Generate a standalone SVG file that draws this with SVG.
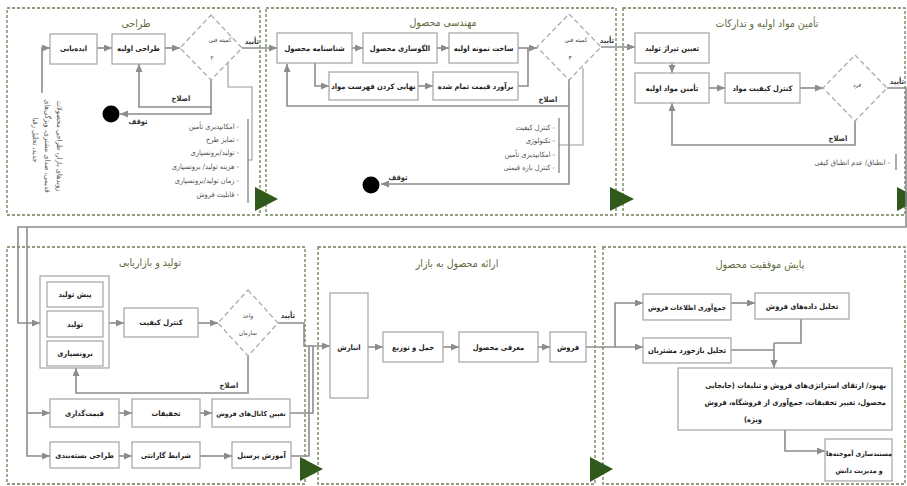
<svg xmlns="http://www.w3.org/2000/svg" width="907" height="486" viewBox="0 0 907 486">
<style>
.panel{fill:none;stroke:#6f7d55;stroke-width:1.3;stroke-dasharray:3 2}
.tri{fill:#2f5a1c}
.box{fill:#fff;stroke:#a3a3a3;stroke-width:1.2}
.dia{fill:none;stroke:#b0b0b0;stroke-width:1.4;stroke-dasharray:5 3}
.c{fill:none;stroke:#8c8c8c;stroke-width:1.6}
.br{fill:none;stroke:#777;stroke-width:1.2}
text{font-family:"DejaVu Sans Condensed","DejaVu Sans",sans-serif;direction:rtl}
.lb{font-size:7.5px;font-weight:bold;fill:#222;text-anchor:middle}
.sm{font-size:6.9px}
.ttl{font-size:10.5px;fill:#5e6b3c;text-anchor:middle}
.li{font-size:7.4px;fill:#555;text-anchor:start}
.dt{font-size:6.2px;fill:#444;text-anchor:middle}
.cl{font-size:7.5px;font-weight:bold;fill:#333;text-anchor:middle}
.rot{font-size:7.4px;fill:#555;text-anchor:middle}
</style>
<defs>
<marker id="ah" markerUnits="userSpaceOnUse" markerWidth="8" markerHeight="8" refX="8" refY="3.5" orient="auto">
<path d="M0,0 L8,3.5 L0,7 z" fill="#8c8c8c"/>
</marker>
</defs>
<rect width="907" height="486" fill="#fff"/>

<g id="panels">
<rect class="panel" x="7" y="8" width="253" height="207"/>
<rect class="panel" x="266" y="8" width="350" height="207"/>
<rect class="panel" x="623" y="8" width="282" height="207"/>
<rect class="panel" x="7" y="247" width="298" height="237"/>
<rect class="panel" x="318" y="247" width="277" height="237"/>
<rect class="panel" x="603" y="247" width="302" height="237"/>
<polygon class="tri" points="255,187 255,211 278,199"/>
<polygon class="tri" points="610,187 610,211 634,199"/>
<polygon class="tri" points="897,187 897,211 920,199"/>
<polygon class="tri" points="300,457 300,481 323,469"/>
<polygon class="tri" points="590,457 590,482 613,469"/>
<text class="ttl" x="136" y="27">طراحی</text>
<text class="ttl" x="443" y="26">مهندسی محصول</text>
<text class="ttl" x="767" y="27">تأمین مواد اولیه و تدارکات</text>
<text class="ttl" x="150" y="266">تولید و بازاریابی</text>
<text class="ttl" x="457" y="267">ارائه محصول به بازار</text>
<text class="ttl" x="760" y="268">پایش موفقیت محصول</text>
</g>

<g id="connectors">
<path class="c" d="M42,93 V48 H50" marker-end="url(#ah)"/>
<path class="c" d="M97,48 H112" marker-end="url(#ah)"/>
<path class="c" d="M165,48 H180" marker-end="url(#ah)"/>
<path class="c" d="M242,48 H277" marker-end="url(#ah)"/>
<path class="c" d="M211,80 V107 H139 V64" marker-end="url(#ah)"/>
<path class="c" d="M211,107 V114 H120" marker-end="url(#ah)"/>
<path class="c" style="stroke-width:1.1;stroke:#999" d="M228,63 V87 H252 V160 H248"/>
<path class="c" d="M352,48 H363" marker-end="url(#ah)"/>
<path class="c" d="M437,48 H449" marker-end="url(#ah)"/>
<path class="c" d="M518,48 H537" marker-end="url(#ah)"/>
<path class="c" d="M315,63 V86 H329" marker-end="url(#ah)"/>
<path class="c" d="M418,86 H433" marker-end="url(#ah)"/>
<path class="c" d="M518,86 H528 V48"/>
<path class="c" d="M601,47 H635" marker-end="url(#ah)"/>
<path class="c" d="M569,80 V106 H287 V64" marker-end="url(#ah)"/>
<path class="c" d="M569,106 V184 H381" marker-end="url(#ah)"/>
<path class="c" style="stroke-width:1.1;stroke:#999" d="M583,68 V145 H559"/>
<path class="c" d="M672,63 V73" marker-end="url(#ah)"/>
<path class="c" d="M709,88 H725" marker-end="url(#ah)"/>
<path class="c" d="M800,88 H823" marker-end="url(#ah)"/>
<path class="c" d="M855,121 V145 H672 V103" marker-end="url(#ah)"/>
<path class="c" d="M887,88 H906 V227 H18 V323 H40" marker-end="url(#ah)"/>
<path class="c" d="M27,227 V456 H50" marker-end="url(#ah)"/>
<path class="c" d="M27,413 H50" marker-end="url(#ah)"/>
<path class="c" d="M109,323 H124" marker-end="url(#ah)"/>
<path class="c" d="M198,323 H218" marker-end="url(#ah)"/>
<path class="c" d="M248,356 V393 H76 V368" marker-end="url(#ah)"/>
<path class="c" d="M119,413 H132" marker-end="url(#ah)"/>
<path class="c" d="M200,413 H212" marker-end="url(#ah)"/>
<path class="c" d="M119,456 H132" marker-end="url(#ah)"/>
<path class="c" d="M200,456 H232" marker-end="url(#ah)"/>
<path class="c" d="M278,323 H304 V346 H330" marker-end="url(#ah)"/>
<path class="c" d="M290,413 H313 V346"/>
<path class="c" d="M291,456 H309 V346"/>
<path class="c" d="M368,347 H383" marker-end="url(#ah)"/>
<path class="c" d="M443,347 H459" marker-end="url(#ah)"/>
<path class="c" d="M538,347 H550" marker-end="url(#ah)"/>
<path class="c" d="M586,347 H643" marker-end="url(#ah)"/>
<path class="c" d="M615,347 V303 H643" marker-end="url(#ah)"/>
<path class="c" d="M731,303 H755" marker-end="url(#ah)"/>
<path class="c" d="M801,319 V343 H774"/>
<path class="c" d="M731,350 H774"/>
<path class="c" d="M774,343 V368" marker-end="url(#ah)"/>
<path class="c" d="M785,430 V451 H825" marker-end="url(#ah)"/>
<text class="cl" x="252" y="44">تأیید</text>
<text class="cl" x="181" y="101">اصلاح</text>
<text class="cl" x="138" y="124">توقف</text>
<text class="cl" x="607" y="43">تأیید</text>
<text class="cl" x="548" y="102">اصلاح</text>
<text class="cl" x="398" y="180">توقف</text>
<text class="cl" x="897" y="84">تأیید</text>
<text class="cl" x="838" y="141">اصلاح</text>
<text class="cl" x="288" y="318">تأیید</text>
<text class="cl" x="229" y="388">اصلاح</text>
</g>

<g id="n-ideation"><rect class="box" x="50" y="34" width="47" height="30"/><text class="lb" x="73.5" y="51">ایده‌یابی</text></g>
<g id="n-initial-design"><rect class="box" x="112" y="34" width="53" height="30"/><text class="lb" x="138.5" y="51">طراحی اولیه</text></g>
<g id="n-committee2"><polygon class="dia" points="211,15 242,48 211,80 180,48"/><text class="dt" x="220" y="42">کمیته فنی</text><text class="dt" x="212" y="60">۲</text></g>
<g id="n-stop1"><circle cx="111" cy="114" r="8.5" fill="#000"/></g>
<g id="n-inputs"><text class="rot" transform="translate(57,146) rotate(90)">روندهای بازار، طراحی محصولات</text><text class="rot" transform="translate(45,146) rotate(90)">قدیمی، صدای مشتری، ویژگی‌های</text><text class="rot" transform="translate(33,140) rotate(90)">جدید، تحلیل رقبا</text></g>
<g id="n-criteria1">
<line class="br" x1="248" y1="119" x2="248" y2="203"/>
<text class="li" x="239" y="129">- امکانپذیری تأمین</text>
<text class="li" x="239" y="142">- تمایز طرح</text>
<text class="li" x="239" y="155">- تولید/برونسپاری</text>
<text class="li" x="239" y="169">- هزینه تولید/ برونسپاری</text>
<text class="li" x="239" y="183">- زمان تولید/برونسپاری</text>
<text class="li" x="239" y="197">- قابلیت فروش</text>
</g>

<g id="n-spec"><rect class="box" x="277" y="33" width="75" height="30"/><text class="lb" x="314.5" y="51">شناسنامه محصول</text></g>
<g id="n-modeling"><rect class="box" x="363" y="33" width="74" height="30"/><text class="lb" x="400" y="51">الگوسازی محصول</text></g>
<g id="n-prototype"><rect class="box" x="449" y="33" width="69" height="30"/><text class="lb" x="483.5" y="51">ساخت نمونه اولیه</text></g>
<g id="n-bom"><rect class="box" x="329" y="72" width="89" height="28"/><text class="lb" x="373.5" y="89">نهایی کردن فهرست مواد</text></g>
<g id="n-costing"><rect class="box" x="433" y="72" width="85" height="28"/><text class="lb" x="475.5" y="89">برآورد قیمت تمام شده</text></g>
<g id="n-committee3"><polygon class="dia" points="569,14 601,47 569,80 537,47"/><text class="dt" x="576" y="42">کمیته فنی</text><text class="dt" x="570" y="60">۳</text></g>
<g id="n-stop2"><circle cx="371" cy="185" r="8.5" fill="#000"/></g>
<g id="n-criteria2">
<line class="br" x1="559" y1="118" x2="559" y2="173"/>
<text class="li" x="555" y="130">- کنترل کیفیت</text>
<text class="li" x="555" y="143">- تکنولوژی</text>
<text class="li" x="555" y="157">- امکانپذیری تأمین</text>
<text class="li" x="555" y="170">- کنترل بازه قیمتی</text>
</g>

<g id="n-volume"><rect class="box" x="635" y="33" width="74" height="30"/><text class="lb" x="672" y="51">تعیین تیراژ تولید</text></g>
<g id="n-supply"><rect class="box" x="635" y="73" width="74" height="30"/><text class="lb" x="672" y="91">تأمین مواد اولیه</text></g>
<g id="n-qc-material"><rect class="box" x="725" y="73" width="75" height="30"/><text class="lb" x="762.5" y="91">کنترل کیفیت مواد</text></g>
<g id="n-person"><polygon class="dia" points="855,55 887,88 855,121 823,88"/><text class="dt" x="857" y="87">فرد</text></g>
<g id="n-criteria3"><line class="br" x1="896" y1="154" x2="896" y2="170"/><text class="li" x="890" y="165">- انطباق/ عدم انطباق کیفی</text></g>

<g id="n-production-group">
<rect class="box" x="40" y="276" width="69" height="92"/>
<rect class="box" x="47" y="282" width="56" height="25"/><text class="lb" x="75" y="297">پیش تولید</text>
<rect class="box" x="47" y="311" width="56" height="26"/><text class="lb" x="75" y="327">تولید</text>
<rect class="box" x="47" y="341" width="56" height="25"/><text class="lb" x="75" y="356">برونسپاری</text>
</g>
<g id="n-qc"><rect class="box" x="124" y="308" width="74" height="29"/><text class="lb" x="161" y="325">کنترل کیفیت</text></g>
<g id="n-org-unit"><polygon class="dia" points="248,290 278,323 248,356 218,323"/><text class="dt" x="248" y="318">واحد</text><text class="dt" x="248" y="335">سازمان</text></g>
<g id="n-pricing"><rect class="box" x="50" y="399" width="69" height="28"/><text class="lb" x="84.5" y="416">قیمت‌گذاری</text></g>
<g id="n-discounts"><rect class="box" x="132" y="399" width="68" height="28"/><text class="lb" x="166" y="416">تخفیفات</text></g>
<g id="n-channels"><rect class="box" x="212" y="399" width="78" height="28"/><text class="lb sm" x="251" y="416">تعیین کانال‌های فروش</text></g>
<g id="n-packaging"><rect class="box" x="50" y="442" width="69" height="26"/><text class="lb" x="84.5" y="458">طراحی بسته‌بندی</text></g>
<g id="n-warranty"><rect class="box" x="132" y="442" width="68" height="26"/><text class="lb" x="166" y="458">شرایط گارانتی</text></g>
<g id="n-training"><rect class="box" x="232" y="442" width="59" height="26"/><text class="lb" x="261.5" y="458">آموزش پرسنل</text></g>

<g id="n-storage"><rect class="box" x="330" y="293" width="38" height="105"/><text class="lb" x="349" y="350">انبارش</text></g>
<g id="n-distribution"><rect class="box" x="383" y="332" width="60" height="30"/><text class="lb" x="413" y="350">حمل و توزیع</text></g>
<g id="n-introduction"><rect class="box" x="459" y="332" width="79" height="30"/><text class="lb" x="498.5" y="350">معرفی محصول</text></g>
<g id="n-sales"><rect class="box" x="550" y="332" width="36" height="30"/><text class="lb" x="568" y="350">فروش</text></g>

<g id="n-collect"><rect class="box" x="643" y="294" width="88" height="26"/><text class="lb sm" x="687" y="310">جمع‌آوری اطلاعات فروش</text></g>
<g id="n-analyze"><rect class="box" x="755" y="293" width="94" height="26"/><text class="lb" x="802" y="309">تحلیل داده‌های فروش</text></g>
<g id="n-feedback"><rect class="box" x="643" y="338" width="88" height="25"/><text class="lb" x="687" y="353">تحلیل بازخورد مشتریان</text></g>
<g id="n-improve"><rect class="box" x="678" y="368" width="214" height="62"/>
<text class="lb" style="text-anchor:start" x="886" y="388">بهبود/ ارتقای استراتژی‌های فروش و تبلیغات (جابجایی</text>
<text class="lb" style="text-anchor:start" x="886" y="405">محصول، تغییر تخفیفات، جمع‌آوری از فروشگاه، فروش</text>
<text class="lb" x="753" y="422">ویژه)</text></g>
<g id="n-knowledge"><rect class="box" x="825" y="439" width="67" height="42"/><text class="lb sm" x="859" y="456">مستندسازی آموخته‌ها</text><text class="lb sm" x="859" y="473">و مدیریت دانش</text></g>
</svg>
